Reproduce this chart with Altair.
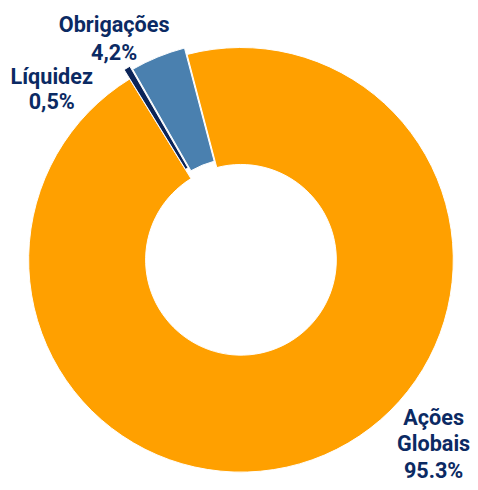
import math
import altair as alt
import pandas as pd

# ---- data ----
categories = ["Ações Globais", "Líquidez", "Obrigações"]
values = [95.3, 0.5, 4.2]
name_lines = ["Ações\nGlobais", "Líquidez", "Obrigações"]
value_labels = ["95.3%", "0,5%", "4,2%"]
colors = ["#FFA000", "#0B2458", "#4A80AF"]

df = pd.DataFrame({
    "category": categories,
    "value": values,
    "order": list(range(len(categories))),
    "label": [n + "\n" + v for n, v in zip(name_lines, value_labels)],
})

# ---- layout ----
W, H = 470, 482
CX, CY = 237, 252
R_OUT, R_IN = 216, 97
START_DEG = -14.7
explode = {"Ações Globais": 0, "Líquidez": 11, "Obrigações": 7}
label_pos = {
    "Ações Globais": (433, 413, 27),
    "Líquidez": (44.5, 66, 26),
    "Obrigações": (108, 13, 29),
}
FONT = "Roboto"
TEXT_COLOR = "#0B2A63"

start_rad = math.radians(START_DEG)
theta_scale = alt.Scale(domain=[0, sum(values)], range=[start_rad, start_rad + 2 * math.pi])
color_scale = alt.Scale(domain=categories, range=colors)

base = alt.Chart(df).transform_window(
    cum="sum(value)", sort=[alt.SortField("order")], frame=[None, 0]
).transform_calculate(start="datum.cum - datum.value")

layers = []
cum = 0.0
total = sum(values)
for cat, v in zip(categories, values):
    mid = start_rad + (cum + v / 2) / total * 2 * math.pi
    cum += v
    d = explode[cat]
    dx = d * math.sin(mid)
    dy = -d * math.cos(mid)
    layers.append(
        base.transform_filter(alt.datum.category == cat)
        .mark_arc(outerRadius=R_OUT, innerRadius=R_IN, stroke="white",
                  strokeWidth=1, x=CX + dx, y=CY + dy)
        .encode(
            theta=alt.Theta("start:Q", scale=theta_scale),
            theta2="cum:Q",
            color=alt.Color("category:N", scale=color_scale, legend=None),
        )
    )

for cat in categories:
    x, y, lh = label_pos[cat]
    layers.append(
        alt.Chart(df).transform_filter(alt.datum.category == cat)
        .mark_text(x=x, y=y, align="center", baseline="middle", font=FONT,
                   fontSize=22, fontWeight="bold", color=TEXT_COLOR,
                   lineBreak="\n", lineHeight=lh)
        .encode(text="label:N")
    )

chart = alt.layer(*layers).properties(
    width=W, height=H, autosize="none", padding=0, background="white"
).configure_view(stroke=None)

chart.save("out.html", embed_options={"renderer": "svg", "actions": False})
